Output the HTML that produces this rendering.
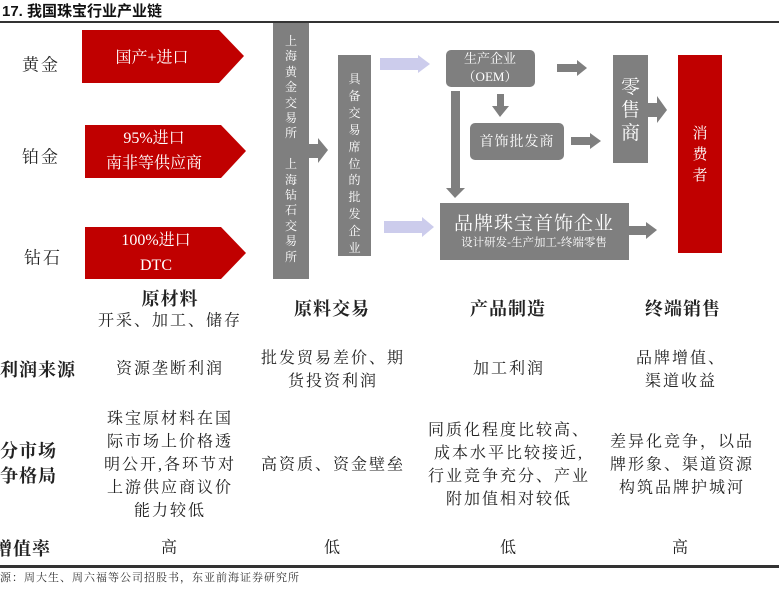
<!DOCTYPE html>
<html><head><meta charset="utf-8"><style>
body{margin:0;width:779px;height:600px;background:#fff;position:relative;overflow:hidden;font-family:"Liberation Serif","Noto Serif CJK SC",serif;color:#222}
.a{position:absolute}
.c{position:absolute;transform:translate(-50%,-50%);text-align:center;white-space:nowrap}
.t{font-size:16px;letter-spacing:2px;line-height:23px}
.h{font-size:18px;font-weight:bold;letter-spacing:1px}
.g{background:#7f7f7f;position:absolute}
.w{color:#fff}
.vt{position:absolute;color:#fff;text-align:center;font-size:12px}
</style></head><body>
<div class="a" style="left:2px;top:0;font:bold 15px 'Liberation Sans','Noto Sans CJK SC',sans-serif;color:#111">17. 我国珠宝行业产业链</div>
<div class="a" style="left:0;top:21px;width:779px;height:2px;background:#333"></div>

<svg class="a" style="left:0;top:0" width="779" height="600">
<g fill="#c00000">
<polygon points="82,30 219,30 244,56 219,83 82,83"/>
<polygon points="85,125 221,125 246,151 221,178 85,178"/>
<polygon points="85,227 221,227 246,253 221,279 85,279"/>
</g>
<g fill="#7f7f7f">
<polygon points="309,144 318,144 318,138 328,150 318,163 318,158 309,158"/>
<polygon points="557,64 577,64 577,60 587,68 577,76 577,72 557,72"/>
<polygon points="497,94 504,94 504,106 509,106 500,117 492,106 497,106"/>
<polygon points="451,91 460,91 460,188 465,188 455,198 446,188 451,188"/>
<polygon points="571,137 590,137 590,133 601,141 590,149 590,145 571,145"/>
<polygon points="648,103 657,103 657,96 667,110 657,123 657,117 648,117"/>
<polygon points="629,226 646,226 646,222 657,230 646,239 646,235 629,235"/>
</g>
<g fill="#ccccec">
<polygon points="380,58 418,58 418,55 430,64 418,73 418,70 380,70"/>
<polygon points="384,221 422,221 422,217 434,227 422,237 422,233 384,233"/>
</g>
</svg>
<div class="c w" style="left:152px;top:56px;font-size:16px">国产+进口</div>
<div class="c w" style="left:154px;top:151px;font-size:16px;line-height:25px">95%进口<br>南非等供应商</div>
<div class="c w" style="left:156px;top:253px;font-size:16px;line-height:25px">100%进口<br>DTC</div>
<div class="c" style="left:41px;top:63px;font-size:17px;letter-spacing:2px">黄金</div>
<div class="c" style="left:41px;top:155px;font-size:17px;letter-spacing:2px">铂金</div>
<div class="c" style="left:43px;top:256px;font-size:17px;letter-spacing:2px">钻石</div>

<div class="g" style="left:273px;top:23px;width:36px;height:256px"></div>
<div class="vt" style="left:273px;top:34px;width:36px;line-height:15.4px">上<br>海<br>黄<br>金<br>交<br>易<br>所<br><br>上<br>海<br>钻<br>石<br>交<br>易<br>所</div>
<div class="g" style="left:338px;top:55px;width:33px;height:201px"></div>
<div class="vt" style="left:338px;top:71px;width:33px;line-height:16.9px">具<br>备<br>交<br>易<br>席<br>位<br>的<br>批<br>发<br>企<br>业</div>

<div class="g" style="left:446px;top:50px;width:89px;height:37px;border-radius:5px"></div>
<div class="c w" style="left:490px;top:68px;font-size:13px;line-height:18px">生产企业<br>（OEM）</div>
<div class="g" style="left:470px;top:123px;width:94px;height:37px;border-radius:5px"></div>
<div class="c w" style="left:517px;top:141px;font-size:14px;letter-spacing:1px">首饰批发商</div>
<div class="g" style="left:613px;top:55px;width:35px;height:108px"></div>
<div class="vt" style="left:613px;top:76px;width:35px;font-size:19px;line-height:23px">零<br>售<br>商</div>
<div class="a" style="left:678px;top:55px;width:44px;height:198px;background:#c00000"></div>
<div class="vt" style="left:678px;top:124px;width:44px;font-size:15px;line-height:21px">消<br>费<br>者</div>
<div class="g" style="left:440px;top:203px;width:189px;height:57px"></div>
<div class="c w" style="left:534px;top:222px;font-size:19px;letter-spacing:1px">品牌珠宝首饰企业</div>
<div class="c w" style="left:534px;top:242px;font-size:11.5px">设计研发-生产加工-终端零售</div>

<div class="c h" style="left:170px;top:298px">原材料</div>
<div class="c t" style="left:170px;top:321px">开采、加工、储存</div>
<div class="c h" style="left:332px;top:308px">原料交易</div>
<div class="c h" style="left:508px;top:308px">产品制造</div>
<div class="c h" style="left:683px;top:308px">终端销售</div>

<div class="a h" style="left:0;top:356px">利润来源</div>
<div class="c t" style="left:170px;top:369px">资源垄断利润</div>
<div class="c t" style="left:333px;top:370px">批发贸易差价、期<br>货投资利润</div>
<div class="c t" style="left:509px;top:369px">加工利润</div>
<div class="c t" style="left:681px;top:370px">品牌增值、<br>渠道收益</div>

<div class="a h" style="left:0;top:439px;line-height:25px">分市场<br>争格局</div>
<div class="c t" style="left:170px;top:465px">珠宝原材料在国<br>际市场上价格透<br>明公开,各环节对<br>上游供应商议价<br>能力较低</div>
<div class="c t" style="left:333px;top:465px">高资质、资金壁垒</div>
<div class="c t" style="left:509px;top:465px">同质化程度比较高、<br>成本水平比较接近,<br>行业竞争充分、产业<br>附加值相对较低</div>
<div class="c t" style="left:682px;top:465px">差异化竞争，以品<br>牌形象、渠道资源<br>构筑品牌护城河</div>

<div class="a h" style="left:-6px;top:535px">增值率</div>
<div class="c t" style="left:170px;top:548px">高</div>
<div class="c t" style="left:333px;top:548px">低</div>
<div class="c t" style="left:509px;top:548px">低</div>
<div class="c t" style="left:681px;top:548px">高</div>
<div class="a" style="left:0;top:565px;width:779px;height:3px;background:#333"></div>
<div class="a" style="left:0;top:569px;font-size:11px;letter-spacing:1px;color:#333">源：周大生、周六福等公司招股书，东亚前海证券研究所</div>
</body></html>
